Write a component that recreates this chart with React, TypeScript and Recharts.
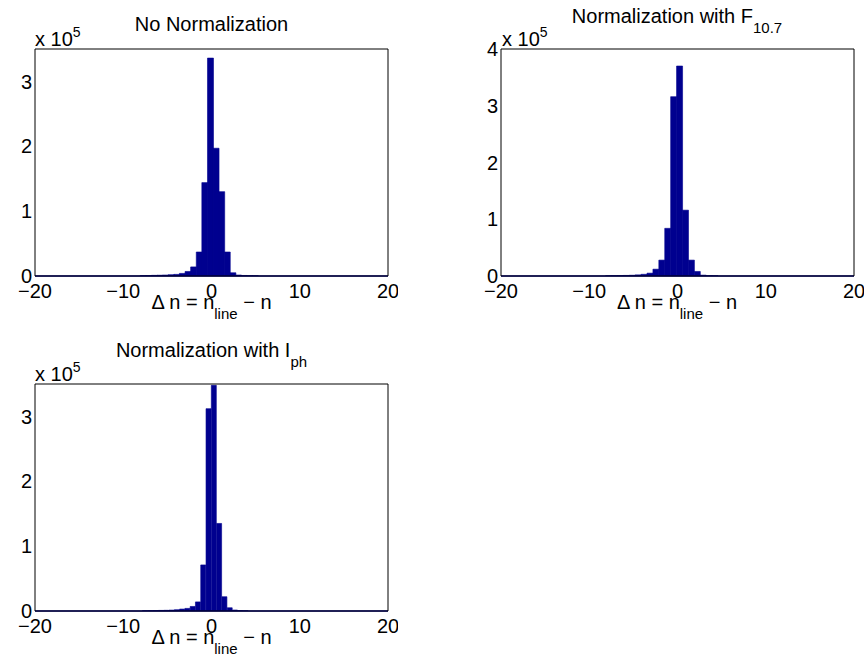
import React from 'react';
import { BarChart, Bar, XAxis, YAxis, ReferenceLine } from 'recharts';

const BLUE = '#00008F';
const FONT = '"Liberation Sans", Arial, Helvetica, sans-serif';

// bin centres (Δn) and counts per panel
const noNormCenters = [-7.76, -7.13, -6.49, -5.86, -5.22, -4.59, -3.95, -3.32, -2.68, -2.05, -1.41, -0.78, -0.14, 0.49, 1.13, 1.76, 2.40, 3.03, 3.67, 4.30, 4.94];
const noNormCounts = [500, 700, 1000, 1200, 1500, 2000, 2500, 4000, 7000, 14000, 37000, 144000, 336000, 197000, 130000, 37000, 5000, 1500, 800, 500, 300];

const f107Centers = [-7.81, -7.14, -6.47, -5.80, -5.13, -4.46, -3.79, -3.12, -2.45, -1.78, -1.11, -0.44, 0.23, 0.90, 1.57, 2.24, 2.91, 3.58, 4.25];
const f107Counts = [400, 600, 800, 1000, 1300, 2000, 3000, 5000, 12000, 28000, 84000, 316000, 370000, 116000, 28000, 8000, 1500, 600, 300];

const iphCenters = [-7.52, -6.92, -6.32, -5.72, -5.12, -4.52, -3.92, -3.32, -2.72, -2.12, -1.52, -0.92, -0.32, 0.28, 0.88, 1.48, 2.08, 2.68, 3.28, 3.88];
const iphCounts = [400, 500, 700, 900, 1100, 1400, 2000, 3000, 4000, 7000, 14000, 71000, 312000, 348000, 135000, 22000, 5000, 1500, 600, 300];

const xTicks = [-20, -10, 0, 10, 20];
const yTicks35 = [0, 100000, 200000, 300000];
const yTicks4 = [0, 100000, 200000, 300000, 400000];

const PLOT_W = 353;
const PLOT_H = 227;

function Hist({ centers, counts, yMax, yTicks, left, top }: {
  centers: number[]; counts: number[]; yMax: number; yTicks: number[]; left: number; top: number;
}) {
  const data = centers.map((x, i) => ({ x, count: counts[i] }));
  const fmt = (v: number) => String(v / 100000);
  return (
    <div style={{ position: 'absolute', left: left - 35, top: top - 20 }}>
      <BarChart
        width={PLOT_W + 45}
        height={PLOT_H + 60}
        data={data}
        margin={{ top: 20, right: 10, bottom: 10, left: 0 }}
        barCategoryGap={0}
        barGap={0}
      >
        <XAxis
          xAxisId="b"
          dataKey="x"
          type="number"
          domain={[-20, 20]}
          ticks={xTicks}
          allowDataOverflow
          height={30}
          tickLine={false}
          tickSize={0}
          tickMargin={8}
          axisLine={{ stroke: '#000' }}
          tick={{ fill: '#000', fontSize: 20, fontFamily: FONT }}
          tickFormatter={(v: number) => (v < 0 ? `\u2212${-v}` : String(v))}
        />
        <XAxis xAxisId="bm" dataKey="x" type="number" orientation="bottom" mirror domain={[-20, 20]} ticks={xTicks}
          allowDataOverflow tick={false} tickSize={4} axisLine={false} tickLine={{ stroke: '#000' }} />
        <XAxis xAxisId="t" dataKey="x" type="number" orientation="top" mirror domain={[-20, 20]} ticks={xTicks}
          allowDataOverflow tick={false} tickSize={4} axisLine={{ stroke: '#000' }} tickLine={{ stroke: '#000' }} />
        <YAxis
          yAxisId="l"
          width={35}
          domain={[0, yMax]}
          ticks={yTicks}
          allowDataOverflow
          tickLine={false}
          tickSize={0}
          tickMargin={3}
          axisLine={{ stroke: '#000' }}
          tick={{ fill: '#000', fontSize: 20, fontFamily: FONT }}
          tickFormatter={fmt}
        />
        <YAxis yAxisId="lm" orientation="left" mirror domain={[0, yMax]} ticks={yTicks} allowDataOverflow
          tick={false} tickSize={4} axisLine={false} tickLine={{ stroke: '#000' }} />
        <YAxis yAxisId="r" orientation="right" mirror domain={[0, yMax]} ticks={yTicks} allowDataOverflow
          tick={false} tickSize={4} axisLine={{ stroke: '#000' }} tickLine={{ stroke: '#000' }} />
        <Bar xAxisId="b" yAxisId="l" dataKey="count" fill={BLUE} stroke={BLUE} strokeWidth={0.6} isAnimationActive={false} />
        <ReferenceLine xAxisId="b" yAxisId="l" y={0} stroke={BLUE} strokeWidth={1.5} />
      </BarChart>
    </div>
  );
}

function XLabel({ x, y }: { x: number; y: number }) {
  return (
    <text x={x} y={y} textAnchor="middle">
      {'\u0394 n = n'}
      <tspan fontSize={15} dy={10}>line</tspan>
      <tspan dy={-10}>{' \u2212 n'}</tspan>
    </text>
  );
}

function Scale({ x, y }: { x: number; y: number }) {
  return (
    <text x={x} y={y}>
      x 10<tspan fontSize={14} dy={-9}>5</tspan>
    </text>
  );
}

export default function App() {
  const ROW2 = 335;
  return (
    <div style={{ position: 'absolute', left: 0, top: 0, width: 868, height: 662, background: '#fff', fontFamily: FONT }}>
      <Hist centers={noNormCenters} counts={noNormCounts} yMax={350000} yTicks={yTicks35} left={35} top={49} />
      <Hist centers={f107Centers} counts={f107Counts} yMax={400000} yTicks={yTicks4} left={501} top={49} />
      <Hist centers={iphCenters} counts={iphCounts} yMax={350000} yTicks={yTicks35} left={35} top={49 + ROW2} />
      <svg width={868} height={662} style={{ position: 'absolute', left: 0, top: 0, pointerEvents: 'none' }}
        fontFamily={FONT} fontSize={20} fill="#000">
        <text x={211.5} y={31} textAnchor="middle">No Normalization</text>
        <text x={677} y={23} textAnchor="middle">
          Normalization with F<tspan fontSize={15} dy={10}>10.7</tspan>
        </text>
        <text x={211.5} y={22 + ROW2} textAnchor="middle">
          Normalization with I<tspan fontSize={15} dy={10}>ph</tspan>
        </text>
        <Scale x={35} y={46} />
        <Scale x={502} y={46} />
        <Scale x={35} y={46 + ROW2} />
        <XLabel x={211.5} y={309} />
        <XLabel x={677} y={309} />
        <XLabel x={211.5} y={309 + ROW2} />
      </svg>
    </div>
  );
}
